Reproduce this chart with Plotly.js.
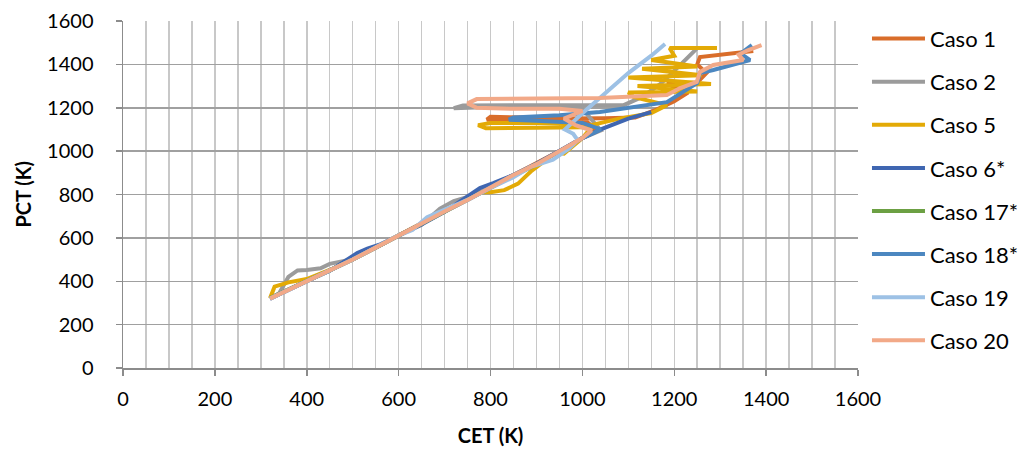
<!DOCTYPE html>
<html>
<head>
<meta charset="utf-8">
<script src="https://cdn.plot.ly/plotly-3.0.1.min.js"></script>
<style>html,body{margin:0;padding:0;background:#fff;}#chart{width:1032px;height:457px;}</style>
</head>
<body>
<div id="chart"></div>
<script>
// Series names and colours
const seriesNames = ["Caso 1", "Caso 2", "Caso 5", "Caso 6*", "Caso 17*", "Caso 18*", "Caso 19", "Caso 20"];
const seriesColors = ["#D96D2A", "#9B9B9B", "#E3AA06", "#3F66B1", "#6CA043", "#4C87C0", "#9DC1E5", "#F2A988"];

// CET (x) and PCT (y) values
const caso1_x = [320, 360, 400, 450, 500, 550, 600, 650, 700, 750, 800, 850, 900, 950, 1000, 1030, 1010, 950, 880, 800, 792, 850, 950, 1050, 1115, 1160, 1200, 1230, 1184, 1250, 1270, 1250, 1256, 1372];
const caso1_y = [322, 360, 402, 450, 500, 555, 612, 665, 722, 775, 835, 890, 940, 1000, 1060, 1100, 1135, 1150, 1155, 1158, 1145, 1148, 1150, 1152, 1155, 1190, 1230, 1270, 1310, 1316, 1360, 1400, 1434, 1462];

const caso2_x = [320, 340, 360, 380, 400, 430, 450, 480, 500, 550, 600, 650, 690, 720, 760, 800, 850, 900, 950, 1000, 1040, 1030, 1000, 900, 800, 720, 740, 850, 1000, 1090, 1130, 1170, 1200, 1230, 1250];
const caso2_y = [320, 345, 420, 450, 452, 460, 480, 495, 502, 555, 612, 660, 735, 770, 795, 840, 890, 940, 1000, 1060, 1095, 1120, 1195, 1200, 1203, 1198, 1210, 1212, 1212, 1212, 1250, 1310, 1370, 1430, 1475];

const caso5_x = [320, 330, 360, 400, 450, 500, 550, 600, 650, 700, 740, 780, 800, 830, 860, 890, 930, 945, 960, 1000, 1020, 980, 900, 800, 773, 790, 900, 1000, 1080, 1150, 1184, 1111, 1100, 1250, 1120, 1280, 1100, 1260, 1130, 1250, 1150, 1200, 1190, 1293];
const caso5_y = [322, 375, 395, 410, 452, 500, 555, 612, 665, 722, 770, 812, 810, 820, 850, 910, 975, 992, 988, 1060, 1110, 1125, 1130, 1130, 1120, 1106, 1108, 1110, 1150, 1175, 1212, 1250, 1270, 1275, 1300, 1310, 1340, 1350, 1380, 1390, 1420, 1440, 1475, 1475];

const caso6_x = [320, 360, 400, 450, 510, 532, 560, 600, 650, 700, 757, 777, 806, 850, 900, 950, 1000, 1040, 1100, 1150];
const caso6_y = [320, 362, 400, 448, 530, 550, 570, 610, 662, 720, 800, 830, 852, 890, 942, 1000, 1060, 1100, 1150, 1180];

const caso17_x = [320, 360, 400, 450, 500, 550, 600, 650, 700, 750, 800, 850, 900];
const caso17_y = [322, 360, 402, 450, 500, 555, 612, 665, 722, 775, 835, 890, 940];

const caso18_x = [320, 360, 400, 450, 500, 550, 600, 650, 700, 750, 800, 850, 900, 950, 1000, 1040, 1000, 900, 840, 850, 950, 1038, 1184, 1250, 1256, 1285, 1365, 1345, 1369];
const caso18_y = [320, 360, 400, 450, 500, 555, 612, 665, 722, 775, 835, 890, 940, 1000, 1060, 1100, 1130, 1140, 1145, 1155, 1165, 1180, 1226, 1314, 1360, 1374, 1420, 1450, 1489];

const caso19_x = [320, 400, 500, 600, 630, 662, 684, 750, 800, 850, 886, 936, 970, 990, 980, 962, 1000, 1050, 1100, 1150, 1180];
const caso19_y = [320, 402, 500, 612, 636, 695, 714, 775, 830, 880, 926, 960, 1010, 1050, 1080, 1100, 1175, 1265, 1360, 1440, 1494];

const caso20_x = [320, 360, 400, 450, 500, 550, 600, 650, 700, 750, 800, 850, 900, 950, 1000, 1020, 985, 960, 1000, 950, 850, 770, 750, 770, 900, 1038, 1184, 1213, 1249, 1256, 1285, 1350, 1340, 1360, 1390];
const caso20_y = [320, 360, 402, 450, 500, 555, 612, 665, 722, 775, 835, 890, 940, 1000, 1060, 1095, 1120, 1150, 1185, 1195, 1195, 1200, 1220, 1240, 1242, 1245, 1259, 1291, 1319, 1365, 1397, 1420, 1445, 1465, 1489];

const xs = [caso1_x, caso2_x, caso5_x, caso6_x, caso17_x, caso18_x, caso19_x, caso20_x];
const ys = [caso1_y, caso2_y, caso5_y, caso6_y, caso17_y, caso18_y, caso19_y, caso20_y];

const axisTicks = [0, 200, 400, 600, 800, 1000, 1200, 1400, 1600];

const FONT = "Lato, 'Open Sans', sans-serif";

const traces = seriesNames.map((name, i) => ({
  type: 'scatter',
  mode: 'lines',
  name: name,
  legendgroup: 'g' + i,
  x: xs[i],
  y: ys[i],
  line: {color: seriesColors[i], width: 4}
}));

const layout = {
  width: 1032,
  height: 457,
  margin: {l: 123, r: 174, t: 21, b: 89},
  paper_bgcolor: '#fff',
  plot_bgcolor: '#fff',
  font: {family: FONT, size: 20, color: '#000'},
  showlegend: true,
  legend: {
    xref: 'container', yref: 'container',
    x: 0.8401, y: 0.961, xanchor: 'left', yanchor: 'top',
    font: {family: FONT, size: 22, color: '#000'},
    traceorder: 'grouped',
    tracegroupgap: 11.5,
    itemwidth: 53,
    maxheight: 450,
    bgcolor: 'rgba(0,0,0,0)'
  },
  xaxis: {
    range: [0, 1600],
    tickvals: axisTicks,
    ticktext: axisTicks.map(String),
    showgrid: true, gridcolor: '#C8C8C8', gridwidth: 1.5,
    minor: {dtick: 50, tick0: 0, showgrid: true, gridcolor: '#C8C8C8', gridwidth: 1.5},
    showline: true, linecolor: '#8C8C8C', linewidth: 1.5,
    ticks: 'outside', ticklen: 6, tickcolor: '#8C8C8C', tickwidth: 1.5,
    ticklabelstandoff: 6,
    zeroline: false,
    tickfont: {family: FONT, size: 20, color: '#000'},
    title: {text: '<b>CET (K)</b>', font: {family: FONT, size: 20, color: '#000'}, standoff: 20}
  },
  yaxis: {
    range: [0, 1600],
    tickvals: axisTicks,
    ticktext: axisTicks.map(String),
    showgrid: true, gridcolor: '#A0A0A0', gridwidth: 1.5,
    showline: true, linecolor: '#8C8C8C', linewidth: 1.5,
    ticks: 'outside', ticklen: 6, tickcolor: '#8C8C8C', tickwidth: 1.5,
    ticklabelstandoff: 18,
    zeroline: false,
    tickfont: {family: FONT, size: 20, color: '#000'}
  },
  annotations: [{
    text: '<b>PCT (K)</b>',
    xref: 'paper', yref: 'paper',
    x: -0.1374, y: 0.5, xanchor: 'center', yanchor: 'middle',
    textangle: -90, showarrow: false,
    font: {family: FONT, size: 20, color: '#000'}
  }]
};

Plotly.newPlot('chart', traces, layout, {staticPlot: true, displayModeBar: false});
</script>
</body>
</html>
